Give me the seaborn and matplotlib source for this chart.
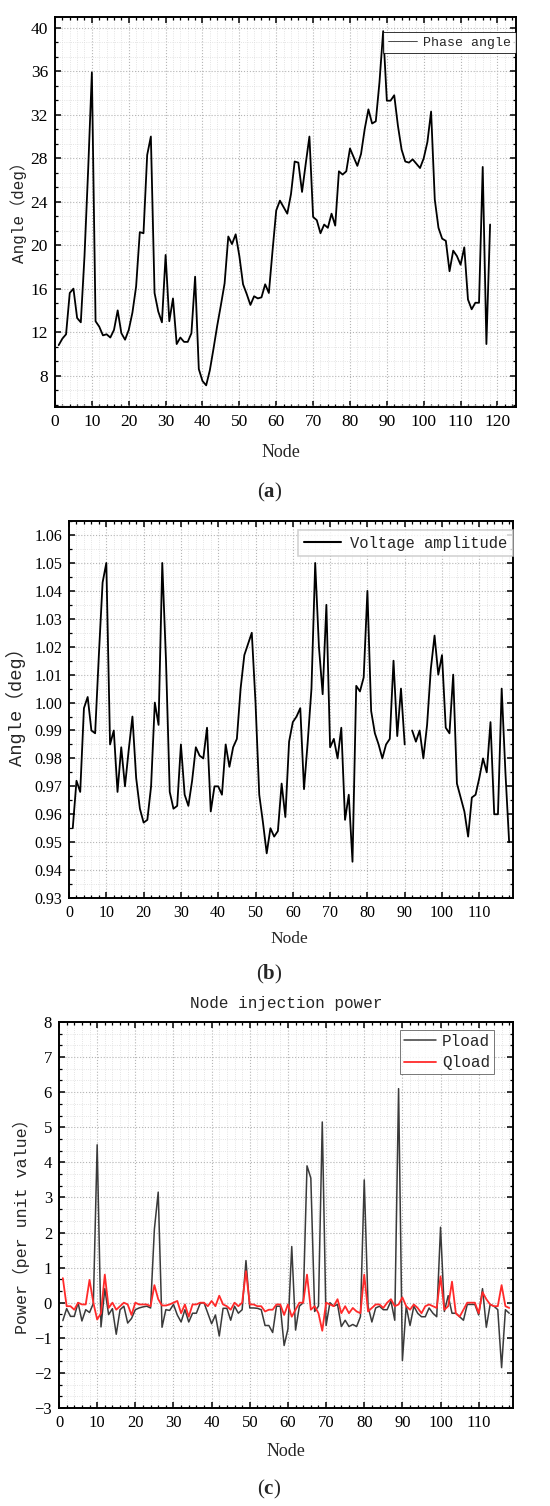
import numpy as np
import pandas as pd
import matplotlib
matplotlib.use("Agg")
import matplotlib.pyplot as plt
import seaborn as sns
from matplotlib.ticker import MultipleLocator, AutoMinorLocator, FormatStrFormatter
from matplotlib.lines import Line2D

# node index of the 118-bus system
node = np.arange(1, 119)

phase_angle = [
    10.8, 11.4, 11.8, 15.6, 16.0, 13.3, 12.9, 19.0, 27.0, 35.9,
    13.0, 12.5, 11.7, 11.8, 11.5, 12.2, 14.0, 11.9, 11.3, 12.2,
    13.8, 16.2, 21.2, 21.1, 28.3, 30.0, 15.6, 13.9, 12.9, 19.1,
    13.0, 15.1, 10.9, 11.5, 11.1, 11.1, 11.9, 17.1, 8.6, 7.5,
    7.1, 8.5, 10.5, 12.6, 14.5, 16.5, 20.8, 20.1, 21.0, 19.0,
    16.4, 15.5, 14.5, 15.3, 15.1, 15.2, 16.4, 15.6, 19.5, 23.2,
    24.1, 23.5, 22.9, 24.7, 27.7, 27.6, 24.9, 27.5, 30.0, 22.6,
    22.3, 21.1, 21.9, 21.6, 22.9, 21.8, 26.8, 26.5, 26.8, 28.9,
    28.1, 27.3, 28.4, 30.7, 32.5, 31.2, 31.4, 35.0, 39.7, 33.3,
    33.3, 33.8, 31.0, 28.8, 27.7, 27.6, 27.9, 27.5, 27.1, 28.0,
    29.5, 32.3, 24.2, 21.6, 20.6, 20.4, 17.6, 19.5, 19.0, 18.2,
    19.8, 15.0, 14.1, 14.7, 14.7, 27.2, 10.9, 21.9,
]

voltage_amp = [
    0.955, 0.972, 0.968, 0.998, 1.002, 0.990, 0.989, 1.017, 1.043, 1.050,
    0.985, 0.990, 0.968, 0.984, 0.970, 0.983, 0.995, 0.973, 0.962, 0.957,
    0.958, 0.970, 1.000, 0.992, 1.050, 1.015, 0.968, 0.962, 0.963, 0.985,
    0.967, 0.963, 0.972, 0.984, 0.981, 0.980, 0.991, 0.961, 0.970, 0.970,
    0.967, 0.985, 0.977, 0.984, 0.987, 1.005, 1.017, 1.021, 1.025, 1.000,
    0.967, 0.957, 0.946, 0.955, 0.952, 0.954, 0.971, 0.959, 0.986, 0.993,
    0.995, 0.998, 0.969, 0.986, 1.005, 1.050, 1.020, 1.003, 1.035, 0.984,
    0.987, 0.980, 0.991, 0.958, 0.967, 0.943, 1.006, 1.004, 1.009, 1.040,
    0.997, 0.989, 0.985, 0.980, 0.985, 0.987, 1.015, 0.988, 1.005, 0.985,
    np.nan, 0.990, 0.986, 0.990, 0.980, 0.992, 1.012, 1.024, 1.010, 1.017,
    0.991, 0.989, 1.010, 0.971, 0.966, 0.961, 0.952, 0.966, 0.967, 0.973,
    0.980, 0.975, 0.993, 0.960, 0.960, 1.005, 0.975, 0.950,
]

p_load = [
    -0.51, -0.17, -0.39, -0.39, 0.00, -0.52, -0.20, -0.28, -0.02, 4.50,
    -0.69, 0.40, -0.34, -0.17, -0.90, -0.20, -0.10, -0.58, -0.45, -0.20,
    -0.15, -0.12, -0.10, -0.15, 2.10, 3.15, -0.70, -0.20, -0.22, -0.05,
    -0.35, -0.55, -0.20, -0.55, -0.30, -0.30, -0.02, 0.00, -0.30, -0.60,
    -0.35, -0.95, -0.16, -0.16, -0.50, -0.10, -0.30, -0.20, 1.20, -0.15,
    -0.15, -0.16, -0.20, -0.65, -0.65, -0.85, -0.10, -0.10, -1.22, -0.75,
    1.60, -0.78, -0.10, 0.00, 3.90, 3.55, -0.25, -0.10, 5.15, -0.65,
    0.00, -0.10, -0.05, -0.68, -0.50, -0.68, -0.62, -0.68, -0.40, 3.50,
    -0.10, -0.55, -0.15, -0.10, -0.20, -0.20, 0.05, -0.50, 6.10, -1.65,
    -0.10, -0.65, -0.10, -0.30, -0.40, -0.40, -0.15, -0.30, -0.40, 2.15,
    -0.25, 0.20, -0.30, -0.30, -0.40, -0.50, -0.05, -0.05, -0.05, -0.35,
    0.40, -0.70, -0.05, -0.10, -0.20, -1.85, -0.20, -0.30,
]

q_load = [
    0.70, -0.10, -0.10, -0.20, 0.00, -0.05, -0.05, 0.65, 0.00, -0.48,
    -0.30, 0.80, -0.15, 0.00, -0.20, -0.10, 0.00, -0.05, -0.35, 0.00,
    -0.05, -0.05, -0.05, -0.10, 0.50, 0.10, -0.08, -0.08, -0.05, 0.00,
    0.05, -0.30, -0.05, -0.40, -0.05, -0.05, 0.00, 0.00, -0.10, 0.05,
    -0.10, 0.20, -0.05, -0.10, -0.20, 0.00, -0.10, 0.00, 0.90, -0.05,
    -0.05, -0.10, -0.10, -0.25, -0.20, -0.20, -0.05, -0.05, -0.35, -0.05,
    -0.40, -0.20, 0.00, 0.00, 0.80, -0.20, -0.10, -0.30, -0.80, 0.00,
    -0.05, -0.10, 0.10, -0.30, -0.10, -0.30, -0.15, -0.25, -0.30, 0.80,
    -0.25, -0.15, -0.05, -0.05, -0.15, 0.00, 0.10, -0.10, -0.05, 0.15,
    -0.10, -0.20, -0.05, -0.15, -0.30, -0.10, -0.05, -0.10, -0.15, 0.75,
    -0.20, -0.10, 0.60, -0.30, -0.40, -0.20, 0.00, 0.00, 0.00, -0.30,
    0.30, 0.10, -0.05, -0.10, -0.10, 0.50, -0.10, -0.15,
]

sns.set_theme(style="ticks")
plt.rcParams['font.family'] = ['Liberation Serif', 'Noto Sans CJK SC', 'DejaVu Sans']
plt.rcParams['axes.unicode_minus'] = True
plt.rcParams['mathtext.fontset'] = 'custom'
plt.rcParams['mathtext.rm'] = 'Liberation Serif'
plt.rcParams['mathtext.bf'] = 'Liberation Serif:bold'
MONO = ['Liberation Mono', 'Noto Sans CJK SC']

fig = plt.figure(figsize=(5.5, 15.06), dpi=100)
ax_a = fig.add_axes([0.100, 0.7297, 0.838, 0.2590])
ax_b = fig.add_axes([0.1255, 0.4037, 0.807, 0.2503])
ax_c = fig.add_axes([0.1073, 0.0651, 0.8255, 0.2563])


def estilo(ax, tick_size):
    """Moldura, ticks para dentro e grade pontilhada."""
    for s in ax.spines.values():
        s.set_linewidth(1.4)
        s.set_color('black')
    ax.tick_params(which='both', direction='in', top=True, right=True,
                   labelsize=tick_size, colors='black', pad=5)
    ax.tick_params(which='major', length=4.5, width=1.1)
    ax.tick_params(which='minor', length=2.5, width=0.9)
    ax.grid(which='major', linestyle=':', color='#b5b5b5', linewidth=0.8)
    ax.grid(which='minor', linestyle=':', color='#dcdcdc', linewidth=0.6)
    ax.set_axisbelow(True)


# (a) phase angle
df_a = pd.DataFrame({'Node': node, 'Angle': phase_angle})
sns.lineplot(data=df_a, x='Node', y='Angle', color='black', linewidth=1.3,
             label='Phase angle', ax=ax_a)
ax_a.set_xlim(0, 125)
ax_a.set_ylim(5.1, 41)
ax_a.xaxis.set_major_locator(MultipleLocator(10))
ax_a.xaxis.set_minor_locator(MultipleLocator(2))
ax_a.yaxis.set_major_locator(MultipleLocator(4))
ax_a.yaxis.set_minor_locator(AutoMinorLocator(3))
estilo(ax_a, 12.5)
ax_a.set_xlabel('Node', fontsize=13)
ax_a.set_ylabel('Angle（deg）', family=MONO, fontsize=11.5)
ax_a.xaxis.set_label_coords(0.49, -0.095)
ax_a.yaxis.set_label_coords(-0.061, 0.51)
leg = ax_a.legend(loc='upper right', bbox_to_anchor=(1.0, 0.962),
                  prop={'family': MONO, 'size': 9.5}, frameon=True,
                  fancybox=False, borderaxespad=0.0, handlelength=2.2,
                  borderpad=0.35, handletextpad=0.5)
leg.get_frame().set_edgecolor('black')
leg.get_frame().set_linewidth(0.7)
leg.get_lines()[0].set_linewidth(0.5)

# (b) voltage amplitude, gap at the missing node
df_b = pd.DataFrame({'Node': node, 'Voltage': voltage_amp})
df_b['seg'] = df_b['Voltage'].isna().cumsum()
sns.lineplot(data=df_b.dropna(), x='Node', y='Voltage', units='seg',
             estimator=None, color='black', linewidth=1.3, ax=ax_b)
ax_b.set_xlim(0, 119)
ax_b.set_ylim(0.93, 1.065)
ax_b.xaxis.set_major_locator(MultipleLocator(10))
ax_b.xaxis.set_minor_locator(MultipleLocator(2))
ax_b.yaxis.set_major_locator(MultipleLocator(0.01))
ax_b.yaxis.set_minor_locator(MultipleLocator(0.005))
ax_b.yaxis.set_major_formatter(FormatStrFormatter('%.2f'))
estilo(ax_b, 11.5)
ax_b.set_xlabel('Node', fontsize=12.5)
ax_b.set_ylabel('Angle（deg）', family=MONO, fontsize=13.5)
ax_b.xaxis.set_label_coords(0.497, -0.088)
ax_b.yaxis.set_label_coords(-0.097, 0.52)
leg = ax_b.legend(handles=[Line2D([], [], color='black', lw=1.5)],
                  labels=['Voltage amplitude'], loc='upper right',
                  bbox_to_anchor=(1.0, 0.976),
                  prop={'family': MONO, 'size': 11.2}, frameon=True,
                  fancybox=False, borderaxespad=0.0, handlelength=2.4,
                  borderpad=0.35, handletextpad=0.6)
leg.get_frame().set_edgecolor('#c8c8c8')
leg.get_frame().set_linewidth(1.2)

# (c) node injection power
df_c = pd.DataFrame({'Node': node, 'Pload': p_load, 'Qload': q_load})
df_c = df_c.melt(id_vars='Node', var_name='Load', value_name='Power')
sns.lineplot(data=df_c, x='Node', y='Power', hue='Load',
             palette={'Pload': '#3a3a3a', 'Qload': '#ff2a2a'},
             linewidth=1.1, ax=ax_c)
for ln in ax_c.get_lines():
    if ln.get_color() == '#ff2a2a':
        ln.set_linewidth(1.3)
ax_c.set_xlim(0, 119)
ax_c.set_ylim(-3, 8)
ax_c.xaxis.set_major_locator(MultipleLocator(10))
ax_c.xaxis.set_minor_locator(MultipleLocator(2))
ax_c.yaxis.set_major_locator(MultipleLocator(1))
ax_c.yaxis.set_minor_locator(AutoMinorLocator(3))
estilo(ax_c, 12)
ax_c.set_title('Node injection power', family=MONO, fontsize=11.5, pad=10)
ax_c.set_xlabel('Node', fontsize=13)
ax_c.set_ylabel('Power（per unit value）', family=MONO, fontsize=12)
ax_c.xaxis.set_label_coords(0.5, -0.09)
ax_c.yaxis.set_label_coords(-0.064, 0.48)
leg = ax_c.legend(title=None, loc='upper right', bbox_to_anchor=(0.958, 0.979),
                  prop={'family': MONO, 'size': 11.5}, frameon=True,
                  fancybox=False, borderaxespad=0.0, handlelength=2.0,
                  borderpad=0.25, handletextpad=0.35, labelspacing=0.4)
leg.get_frame().set_edgecolor('#555555')
leg.get_frame().set_linewidth(0.7)

# subfigure captions: plain parentheses, bold letter
for y, letter in [(1 - 492 / 1506, 'a'), (1 - 974 / 1506, 'b'), (1 - 1489 / 1506, 'c')]:
    fig.text(0.49, y, '($\\mathbf{' + letter + '}$)', ha='center', va='center',
             fontsize=15, family='Liberation Serif')

fig.savefig('out.png', dpi=100, facecolor='white')
